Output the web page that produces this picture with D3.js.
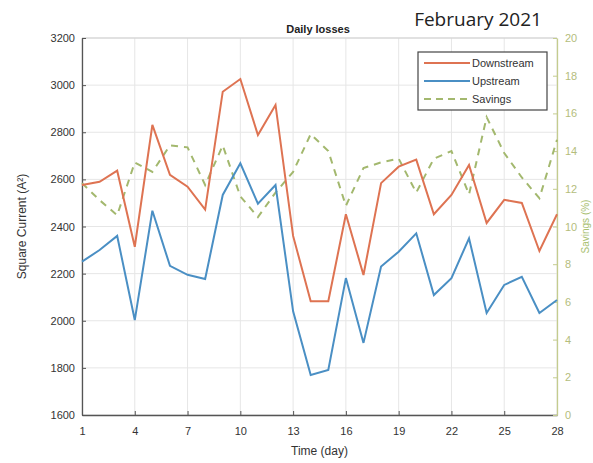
<!DOCTYPE html>
<html>
<head>
<meta charset="utf-8">
<script src="https://cdn.jsdelivr.net/npm/d3@7"></script>
<style>
  body { margin: 0; background: #fff; }
  text { font-family: "Liberation Sans", Arial, sans-serif; }
</style>
</head>
<body>
<script>
// data
const days = d3.range(1, 29);
const downstream = [2576, 2590, 2637, 2314, 2831, 2619, 2569, 2472, 2972, 3026,
  2788, 2916, 2360, 2083, 2083, 2452, 2194, 2584, 2654, 2684, 2452, 2534, 2661,
  2415, 2513, 2500, 2296, 2452];
const upstream = [2251, 2300, 2360, 2003, 2467, 2233, 2195, 2177, 2534, 2668,
  2497, 2576, 2040, 1770, 1791, 2181, 1906, 2230, 2293, 2371, 2109, 2181, 2350,
  2033, 2152, 2186, 2033, 2088];
const savings = [12.3, 11.4, 10.6, 13.4, 12.9, 14.3, 14.2, 12.2, 14.3, 11.6,
  10.5, 11.8, 12.9, 14.9, 14.0, 11.1, 13.1, 13.4, 13.6, 11.8, 13.6, 14.0, 11.7,
  15.8, 13.9, 12.6, 11.5, 14.6];
const xTicks = [1, 4, 7, 10, 13, 16, 19, 22, 25, 28];
const yTicks = d3.range(1600, 3201, 200);
const y2Ticks = d3.range(0, 21, 2);

const W = 593, H = 463;
const margin = {top: 38, left: 82, right: 36, bottom: 48};
const width = W - margin.left - margin.right;
const height = H - margin.top - margin.bottom;

const cDown = "#de7352", cUp = "#4a8fc4", cSav = "#a3b86e";
const cRight = "#c4cc8e";

const svg = d3.select("body").append("svg")
  .attr("width", W).attr("height", H);
const g = svg.append("g")
  .attr("transform", `translate(${margin.left},${margin.top})`);

const x = d3.scaleLinear().domain([1, 28]).range([0, width]);
const y = d3.scaleLinear().domain([1600, 3200]).range([height, 0]);
const y2 = d3.scaleLinear().domain([0, 20]).range([height, 0]);

// grid
g.append("g").selectAll("line").data(xTicks).join("line")
  .attr("x1", d => x(d)).attr("x2", d => x(d))
  .attr("y1", 0).attr("y2", height)
  .attr("stroke", "#e6e6e6");
g.append("g").selectAll("line").data(yTicks).join("line")
  .attr("x1", 0).attr("x2", width)
  .attr("y1", d => y(d)).attr("y2", d => y(d))
  .attr("stroke", "#e6e6e6");
g.append("line").attr("x1", 0).attr("x2", width).attr("y1", 0).attr("y2", 0)
  .attr("stroke", "#cfcfcf");

// axes
const xAxis = g.append("g").attr("transform", `translate(0,${height})`)
  .call(d3.axisBottom(x).tickValues(xTicks).tickFormat(d3.format("d"))
    .tickSizeInner(-4).tickSizeOuter(0).tickPadding(12));
const yAxis = g.append("g")
  .call(d3.axisLeft(y).tickValues(yTicks).tickFormat(d3.format("d"))
    .tickSizeInner(-4).tickSizeOuter(0).tickPadding(7));
const y2Axis = g.append("g").attr("transform", `translate(${width},0)`)
  .call(d3.axisRight(y2).tickValues(y2Ticks).tickFormat(d3.format("d"))
    .tickSizeInner(-4).tickSizeOuter(0).tickPadding(8));

[xAxis, yAxis].forEach(a => {
  a.select(".domain").attr("stroke", "#555").attr("stroke-width", 1.3);
  a.selectAll(".tick line").attr("stroke", "#555");
  a.selectAll("text").attr("fill", "#333").style("font-size", "11px");
});
y2Axis.select(".domain").attr("stroke", cRight).attr("stroke-width", 1.3);
y2Axis.selectAll(".tick line").attr("stroke", cRight);
y2Axis.selectAll("text").attr("fill", "#b4bd7c").style("font-size", "11px");

// lines
const lineL = d3.line().x((d, i) => x(days[i])).y(d => y(d));
const lineR = d3.line().x((d, i) => x(days[i])).y(d => y2(d));

g.append("path").datum(savings).attr("d", lineR)
  .attr("fill", "none").attr("stroke", cSav).attr("stroke-width", 2)
  .attr("stroke-dasharray", "7,6");
g.append("path").datum(downstream).attr("d", lineL)
  .attr("fill", "none").attr("stroke", cDown).attr("stroke-width", 2);
g.append("path").datum(upstream).attr("d", lineL)
  .attr("fill", "none").attr("stroke", cUp).attr("stroke-width", 2);

// legend
const legend = svg.append("g").attr("transform", "translate(418,52)");
legend.append("rect").attr("width", 129).attr("height", 58)
  .attr("fill", "#fff").attr("stroke", "#444").attr("stroke-width", 1.2);
const items = [
  {name: "Downstream", color: cDown, dash: null},
  {name: "Upstream", color: cUp, dash: null},
  {name: "Savings", color: cSav, dash: "7,5"}
];
items.forEach((it, i) => {
  const yy = 11 + i * 18;
  legend.append("line").attr("x1", 6).attr("x2", 52).attr("y1", yy).attr("y2", yy)
    .attr("stroke", it.color).attr("stroke-width", 2)
    .attr("stroke-dasharray", it.dash);
  legend.append("text").attr("x", 54).attr("y", yy + 4)
    .attr("fill", "#333").style("font-size", "11px").text(it.name);
});

// titles
svg.append("text").attr("x", 318).attr("y", 33).attr("text-anchor", "middle")
  .style("font-size", "11px").style("font-weight", "bold").attr("fill", "#222")
  .text("Daily losses");
svg.append("text").attr("x", 478).attr("y", 26).attr("text-anchor", "middle")
  .style("font-size", "19px").attr("fill", "#222")
  .style("font-family", "'Open Sans', 'Noto Sans', sans-serif")
  .text("February 2021");
svg.append("text").attr("x", margin.left + width / 2).attr("y", 455)
  .attr("text-anchor", "middle").style("font-size", "12px").attr("fill", "#333")
  .text("Time (day)");
svg.append("text")
  .attr("transform", `translate(26,${margin.top + height / 2}) rotate(-90)`)
  .attr("text-anchor", "middle").style("font-size", "12px").attr("fill", "#333")
  .text("Square Current (A²)");
svg.append("text")
  .attr("transform", `translate(589,${margin.top + height / 2}) rotate(-90)`)
  .attr("text-anchor", "middle").style("font-size", "10px").attr("fill", "#a8c070")
  .text("Savings (%)");
</script>
</body>
</html>
